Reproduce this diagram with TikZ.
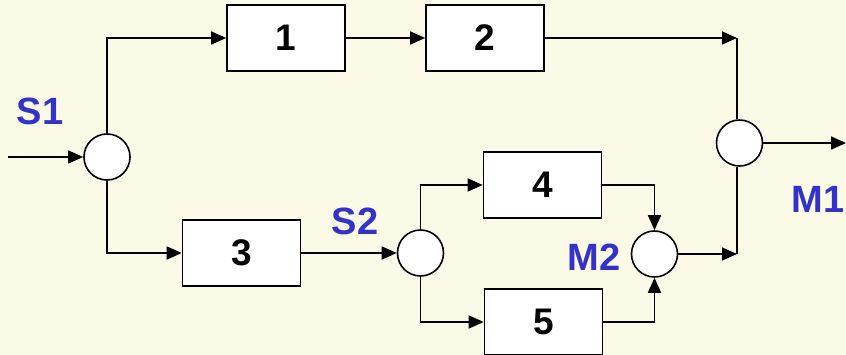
\documentclass[tikz,border=0pt]{standalone}
\usepackage{fontspec}
\setmainfont{Liberation Sans}
\usetikzlibrary{arrows.meta}
\definecolor{bgc}{RGB}{250,250,230}
\definecolor{lblue}{RGB}{51,51,204}
\begin{document}
\begin{tikzpicture}[x=1pt,y=-1pt,
  blk/.style={draw=black,fill=white,line width=1.6pt,minimum width=118pt,minimum height=66pt,inner sep=0pt,font=\fontsize{37}{37}\selectfont\bfseries},
  junc/.style={draw=black,fill=white,circle,line width=1.6pt,minimum size=46pt,inner sep=0pt},
  lbl/.style={text=lblue,font=\fontsize{38}{38}\selectfont\bfseries,inner sep=0pt},
  con/.style={line width=1.6pt},
  arr/.style={con,-{Triangle[length=15pt,width=13pt]}}]
\fill[bgc] (0,0) rectangle (846,355);
\useasboundingbox (0,0) rectangle (846,355);
% nodes
\node[junc] (s1c) at (107,157) {};
\node[blk] (b1) at (286,38) {1};
\node[blk] (b2) at (485,38) {2};
\node[blk] (b3) at (241.5,253) {3};
\node[junc] (s2c) at (420.5,253) {};
\node[blk] (b4) at (542.5,185) {4};
\node[blk] (b5) at (543.5,322) {5};
\node[junc] (m2c) at (654.5,254) {};
\node[junc] (m1c) at (739.5,143) {};
\coordinate (in) at (8,157);
\coordinate (j1) at (737,38);
\coordinate (j2) at (737,254);
\coordinate (out) at (846,143);
% labels
\node[lbl] (ls1) at (40,111) {S1};
\node[lbl] (ls2) at (355,221) {S2};
\node[lbl] (lm2) at (594,257) {M2};
\node[lbl] (lm1) at (818,199) {M1};
% connectors
\draw[arr] (in) -- (s1c.west);
\draw[arr] (s1c.north) |- (b1.west);
\draw[arr] (b1.east) -- (b2.west);
\draw[arr] (b2.east) -- (j1);
\draw[con] (j1) -- (j1 |- m1c.north);
\draw[arr] (s1c.south) |- (b3.west);
\draw[arr] (b3.east) -- (s2c.west);
\draw[arr] (s2c.north) |- (b4.west);
\draw[arr] (s2c.south) |- (b5.west);
\draw[arr] (b4.east) -| (m2c.north);
\draw[arr] (b5.east) -| (m2c.south);
\draw[arr] (m2c.east) -- (j2);
\draw[con] (j2) -- (j2 |- m1c.south);
\draw[arr] (m1c.east) -- (out);
\end{tikzpicture}
\end{document}
